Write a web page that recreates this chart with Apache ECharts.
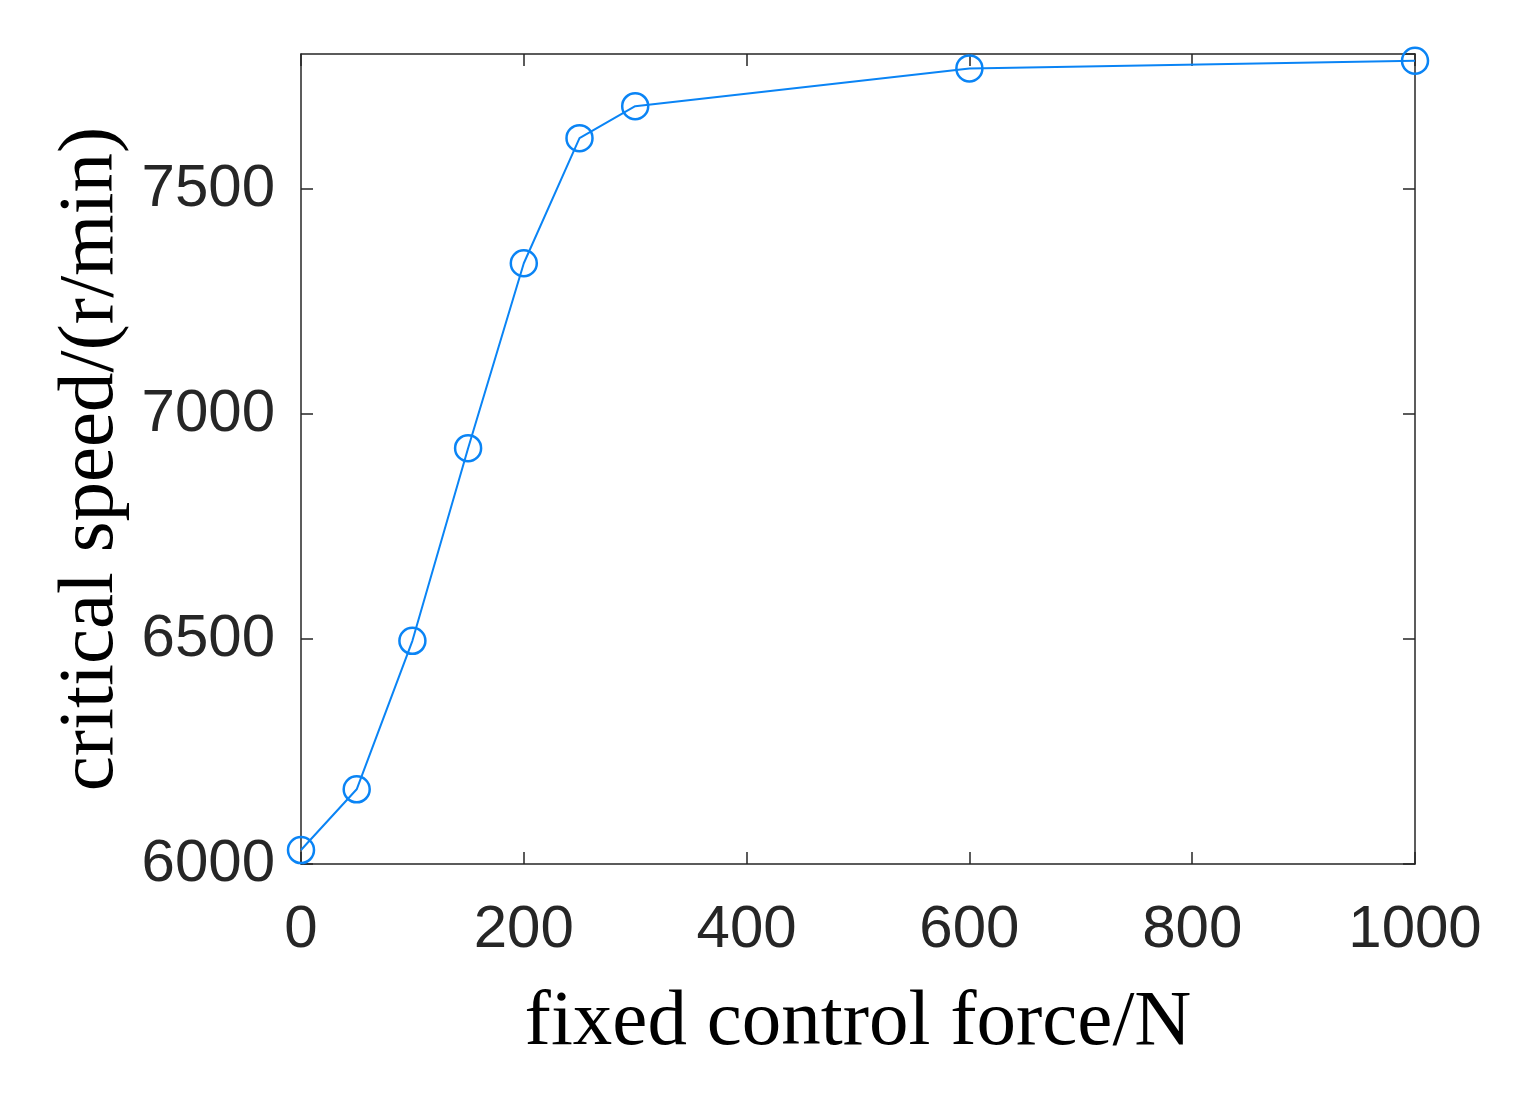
<!DOCTYPE html>
<html>
<head>
<meta charset="utf-8">
<script src="https://cdn.jsdelivr.net/npm/echarts@6/dist/echarts.min.js"></script>
<style>html,body{margin:0;padding:0;background:#fff;}#c{width:1520px;height:1096px;}</style>
</head>
<body>
<div id="c"></div>
<script>
const forces = [0, 50, 100, 150, 200, 250, 300, 600, 1000];
const speeds = [6031, 6166, 6496, 6924, 7335, 7613, 7684, 7768, 7785];
const xTitle = 'fixed control force/N';
const yTitle = 'critical speed/(r/min)';

const chart = echarts.init(document.getElementById('c'), null, {renderer: 'canvas'});
const axisColor = '#262626';
const tickFont = {fontFamily: 'Liberation Sans, Arial, sans-serif', fontSize: 60, color: axisColor,
  formatter: v => String(v)};
const titleFont = {fontFamily: 'Liberation Serif, Times New Roman, serif', fontSize: 79, color: '#000'};
const common = {
  axisLine: {show: true, onZero: false, lineStyle: {color: axisColor, width: 1.5}},
  axisTick: {show: true, inside: true, length: 12, lineStyle: {color: axisColor, width: 1.5}},
  splitLine: {show: false}
};
chart.setOption({
  animation: false,
  backgroundColor: '#fff',
  grid: {left: 301, right: 105, top: 54, bottom: 232},
  xAxis: [
    Object.assign({type: 'value', min: 0, max: 1000, interval: 200, position: 'bottom',
      name: xTitle, nameLocation: 'middle', nameGap: 120, nameTextStyle: titleFont,
      axisLabel: Object.assign({margin: 36}, tickFont)}, common),
    Object.assign({type: 'value', min: 0, max: 1000, interval: 200, position: 'top',
      axisLabel: {show: false}}, common)
  ],
  yAxis: [
    Object.assign({type: 'value', min: 6000, max: 7800, interval: 500, position: 'left',
      name: yTitle, nameLocation: 'middle', nameGap: 166, nameRotate: 90, nameTextStyle: titleFont,
      axisLabel: Object.assign({margin: 26, showMaxLabel: false}, tickFont)}, common),
    Object.assign({type: 'value', min: 6000, max: 7800, interval: 500, position: 'right',
      axisLabel: {show: false}}, common)
  ],
  series: [{
    type: 'line',
    data: forces.map((f, i) => [f, speeds[i]]),
    symbol: 'circle',
    symbolSize: 26,
    showSymbol: true,
    lineStyle: {color: '#0a84f5', width: 2},
    itemStyle: {color: 'rgba(255,255,255,0)', borderColor: '#0a84f5', borderWidth: 2.5},
    clip: false
  }]
});
</script>
</body>
</html>
